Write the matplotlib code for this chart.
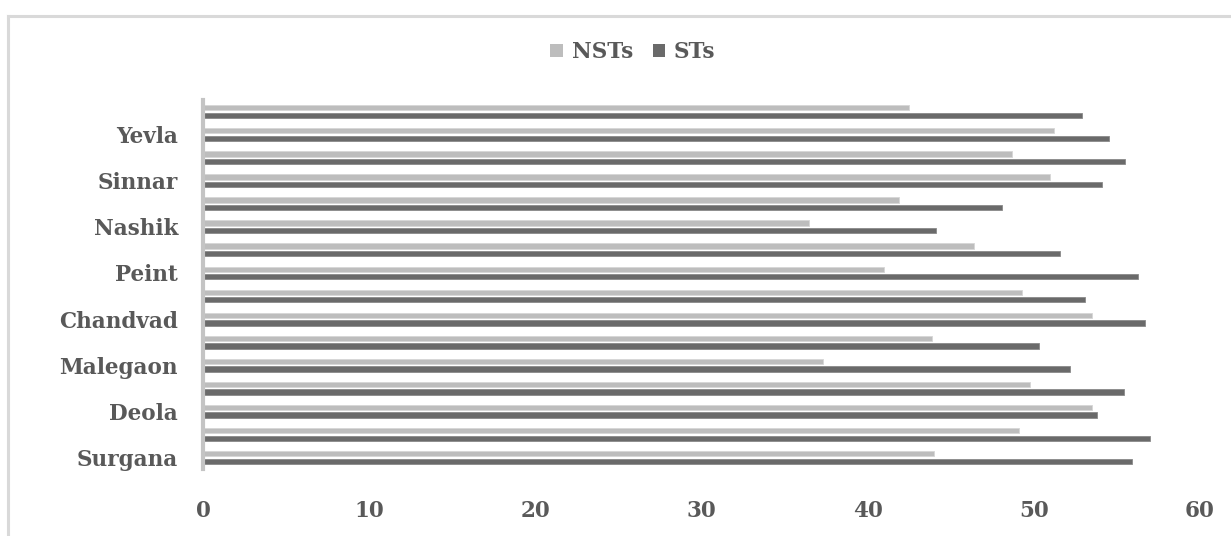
import matplotlib
matplotlib.use("Agg")
import matplotlib.pyplot as plt
from matplotlib.patches import Patch
from matplotlib.lines import Line2D
import numpy as np

# Categories bottom-to-top (only every other label is shown in the chart)
tick_labels = ["Surgana", "", "Deola", "", "Malegaon", "", "Chandvad", "",
               "Peint", "", "Nashik", "", "Sinnar", "", "Yevla", ""]
nsts = [44.0, 49.1, 53.5, 49.8, 37.3, 43.9, 53.5, 49.3,
        41.0, 46.4, 36.5, 41.9, 51.0, 48.7, 51.2, 42.5]
sts = [55.9, 57.0, 53.8, 55.4, 52.2, 50.3, 56.7, 53.1,
       56.3, 51.6, 44.1, 48.1, 54.1, 55.5, 54.5, 52.9]
series_names = ["NSTs", "STs"]
x_ticks = [0, 10, 20, 30, 40, 50, 60]

c_nst = "#BDBDBD"
c_st = "#6A6A6A"
txt = "#595959"
fs = 15.5
font = dict(family="DejaVu Serif", weight="bold", size=fs, color=txt)

fig = plt.figure(figsize=(12.31, 5.36), dpi=100)
ax = fig.add_axes([0.1649, 0.125, 0.8099, 0.6884])

y = np.arange(len(tick_labels))
h = 0.23
off = 0.165
ax.barh(y + off, nsts, height=h, color=c_nst, edgecolor="#D6D6D6", linewidth=0.6)
ax.barh(y - off, sts, height=h, color=c_st, edgecolor="#8A8A8A", linewidth=0.6)

ax.set_xlim(0, 60)
ax.set_ylim(-0.5, len(tick_labels) - 0.5)
ax.set_xticks(x_ticks)
ax.set_xticklabels([str(v) for v in x_ticks], **font)
ax.set_yticks(y)
ax.set_yticklabels(tick_labels, **font)
ax.tick_params(axis="both", length=0)
ax.tick_params(axis="x", pad=22)
ax.tick_params(axis="y", pad=18)
for s in ["top", "right", "bottom"]:
    ax.spines[s].set_visible(False)
ax.spines["left"].set_color("#C4C4C4")
ax.spines["left"].set_linewidth(3)

handles = [Patch(facecolor=c_nst, edgecolor="none"), Patch(facecolor=c_st, edgecolor="none")]
leg = fig.legend(handles, series_names, loc="center", bbox_to_anchor=(633 / 1231, 1 - 52 / 536),
                 ncol=2, frameon=False, handlelength=0.6, handleheight=0.6,
                 handletextpad=0.4, columnspacing=0.9,
                 prop=dict(family="DejaVu Serif", weight="bold", size=fs))
for t in leg.get_texts():
    t.set_color(txt)

# chart-area border (top and left visible)
fig.add_artist(Line2D([8 / 1231, 1.0], [1 - 16 / 536] * 2, color="#D9D9D9", lw=2.2,
                      transform=fig.transFigure))
fig.add_artist(Line2D([8 / 1231] * 2, [0.0, 1 - 16 / 536], color="#D9D9D9", lw=2.2,
                      transform=fig.transFigure))

fig.savefig("out.png", dpi=100)
